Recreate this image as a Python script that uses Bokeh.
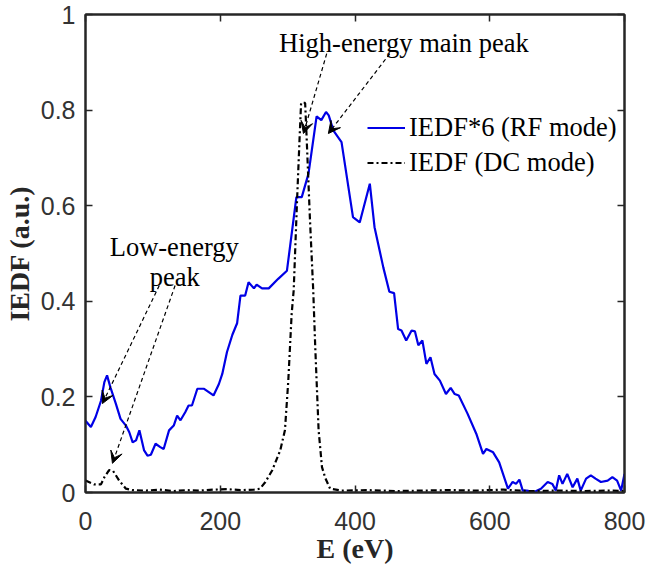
from bokeh.plotting import figure
from bokeh.models import (Range1d, LinearAxis, FixedTicker, Label, Legend, LegendItem,
                          Arrow, VeeHead, NumeralTickFormatter)
from bokeh.embed import file_html
from bokeh.resources import INLINE

# ---------------- data ----------------
energy_rf = [0, 8, 15, 23, 28, 32, 37, 45, 52, 60, 65, 70, 75, 80, 87, 92, 97, 104, 111, 116,
             124, 131, 136, 141, 148, 153, 158, 166, 176, 190, 198, 203, 210, 218, 225, 230,
             237, 242, 250, 254, 262, 272, 286, 299, 313, 321, 331, 343, 350, 357, 361, 368,
             380, 397, 407, 422, 429, 442, 451, 458, 464, 469, 476, 484, 489, 494, 500, 506,
             512, 518, 526, 535, 542, 548, 554, 567, 580, 590, 595, 605, 614, 627, 634, 639,
             644, 649, 655, 666, 676, 686, 693, 698, 703, 708, 715, 723, 730, 735, 743, 750,
             757, 765, 775, 782, 789, 795, 800]
iedf_rf = [0.150, 0.137, 0.158, 0.192, 0.231, 0.245, 0.220, 0.186, 0.154, 0.140, 0.126, 0.105,
           0.109, 0.130, 0.088, 0.077, 0.079, 0.102, 0.095, 0.091, 0.130, 0.140, 0.161, 0.151,
           0.168, 0.182, 0.182, 0.217, 0.217, 0.203, 0.227, 0.248, 0.294, 0.330, 0.354, 0.412,
           0.412, 0.440, 0.427, 0.435, 0.427, 0.427, 0.447, 0.464, 0.618, 0.618, 0.667, 0.787,
           0.779, 0.796, 0.789, 0.757, 0.733, 0.576, 0.565, 0.646, 0.555, 0.471, 0.420, 0.417,
           0.342, 0.339, 0.318, 0.339, 0.337, 0.308, 0.318, 0.269, 0.283, 0.248, 0.234, 0.206,
           0.219, 0.206, 0.203, 0.165, 0.123, 0.081, 0.091, 0.084, 0.063, 0.008, 0.022, 0.018,
           0.027, 0.004, 0.004, 0.001, 0.008, 0.022, 0.018, 0.004, 0.036, 0.018, 0.039, 0.011,
           0.029, 0.004, 0.029, 0.036, 0.029, 0.022, 0.025, 0.032, 0.025, 0.004, 0.039]

energy_dc = [0, 13, 23, 28, 35, 41, 50, 60, 70, 90, 110, 130, 150, 170, 190, 210, 230, 250,
             259, 267, 277, 289, 296, 301, 306, 309, 314, 318, 320, 326, 328, 333, 338, 341,
             346, 351, 356, 363, 380, 420, 460, 500, 540, 580, 620, 660, 700, 740, 780, 800]
iedf_dc = [0.025, 0.017, 0.017, 0.032, 0.047, 0.045, 0.025, 0.008, 0.005, 0.004, 0.006, 0.003,
           0.005, 0.004, 0.006, 0.007, 0.005, 0.006, 0.008, 0.022, 0.046, 0.088, 0.130, 0.234,
           0.374, 0.423, 0.611, 0.750, 0.815, 0.815, 0.750, 0.576, 0.423, 0.304, 0.130, 0.053,
           0.030, 0.008, 0.004, 0.005, 0.003, 0.004, 0.005, 0.004, 0.006, 0.003, 0.004, 0.003,
           0.004, 0.003]

x_ticks = [0, 200, 400, 600, 800]
y_ticks = [0, 0.2, 0.4, 0.6, 0.8, 1]
legend_labels = ["IEDF*6 (RF mode)", "IEDF (DC mode)"]
x_label = "E (eV)"
y_label = "IEDF (a.u.)"
high_text = "High-energy main peak"
low_text = ["Low-energy", "peak"]

# ---------------- styling ----------------
AX = "#262626"
TICKC = "#333333"
SERIF = "Liberation Serif"
SANS = "Liberation Sans"
TXT = "26.5px"

p = figure(width=647, height=570, output_backend="svg", toolbar_location=None,
           x_range=Range1d(0, 800), y_range=Range1d(0, 1),
           min_border_left=83, min_border_right=23, min_border_top=14, min_border_bottom=78)
p.grid.visible = False
p.outline_line_color = AX
p.outline_line_width = 2
p.background_fill_color = "white"

xa = p.xaxis[0]
ya = p.yaxis[0]
xa.ticker = FixedTicker(ticks=x_ticks)
ya.ticker = FixedTicker(ticks=y_ticks)
ya.formatter = NumeralTickFormatter(format="0.[0]")
for ax, st, lst in ((xa, 19, 0), (ya, 10, 3)):
    ax.axis_line_color = AX
    ax.axis_line_width = 2
    ax.major_tick_line_color = AX
    ax.major_tick_line_width = 1.5
    ax.major_tick_in = 7
    ax.major_tick_out = 0
    ax.minor_tick_line_color = None
    ax.major_label_text_font = SANS
    ax.major_label_text_color = TICKC
    ax.major_label_text_font_size = "25px"
    ax.major_label_standoff = st
    ax.axis_label_text_font = SERIF
    ax.axis_label_text_font_style = "bold"
    ax.axis_label_text_font_size = "28px"
    ax.axis_label_text_color = AX
    ax.axis_label_standoff = lst
xa.axis_label = x_label
ya.axis_label = y_label

top_ax = LinearAxis(ticker=FixedTicker(ticks=x_ticks))
right_ax = LinearAxis(ticker=FixedTicker(ticks=y_ticks))
for ax in (top_ax, right_ax):
    ax.axis_line_color = AX
    ax.axis_line_width = 2
    ax.major_tick_line_color = AX
    ax.major_tick_line_width = 1.5
    ax.major_tick_in = 7
    ax.major_tick_out = 0
    ax.minor_tick_line_color = None
    ax.major_label_text_font_size = "0px"
    ax.major_label_text_color = None
    ax.major_label_standoff = 0
p.add_layout(top_ax, "above")
p.add_layout(right_ax, "right")

# ---------------- curves ----------------
r_rf = p.line(energy_rf, iedf_rf, line_color="#0000e6", line_width=2.2)
r_dc = p.line(energy_dc, iedf_dc, line_color="black", line_width=2.2, line_dash="6 3 2 3")

legend = Legend(items=[LegendItem(label=legend_labels[0], renderers=[r_rf]),
                       LegendItem(label=legend_labels[1], renderers=[r_dc])],
                location=(282, 312), border_line_color=None, background_fill_alpha=0,
                padding=0, margin=0, spacing=0, glyph_width=38, glyph_height=35,
                label_height=35, label_standoff=4, label_text_font=SERIF,
                label_text_font_size=TXT, label_text_color="black")
p.add_layout(legend)

# ---------------- annotations ----------------
p.add_layout(Label(x=472.6, y=0.941, text=high_text, text_font=SERIF, text_font_size=TXT,
                   text_align="center", text_baseline="alphabetic", text_color="black"))
p.add_layout(Label(x=131.7, y=0.513, text=low_text[0], text_font=SERIF, text_font_size=TXT,
                   text_align="center", text_baseline="alphabetic", text_color="black"))
p.add_layout(Label(x=132.4, y=0.450, text=low_text[1], text_font=SERIF, text_font_size=TXT,
                   text_align="center", text_baseline="alphabetic", text_color="black"))

for (x0, y0, x1, y1) in [(358, 0.918, 323.5, 0.751), (451.6, 0.918, 360.5, 0.751),
                         (109.5, 0.433, 25.1, 0.186), (133.0, 0.433, 40.0, 0.061)]:
    p.add_layout(Arrow(end=VeeHead(size=12, fill_color="black", line_color="black",
                                   line_width=1),
                       x_start=x0, y_start=y0, x_end=x1, y_end=y1,
                       line_color="black", line_width=1.2, line_dash="4 3"))

open("out.html", "w").write(file_html(p, INLINE))
